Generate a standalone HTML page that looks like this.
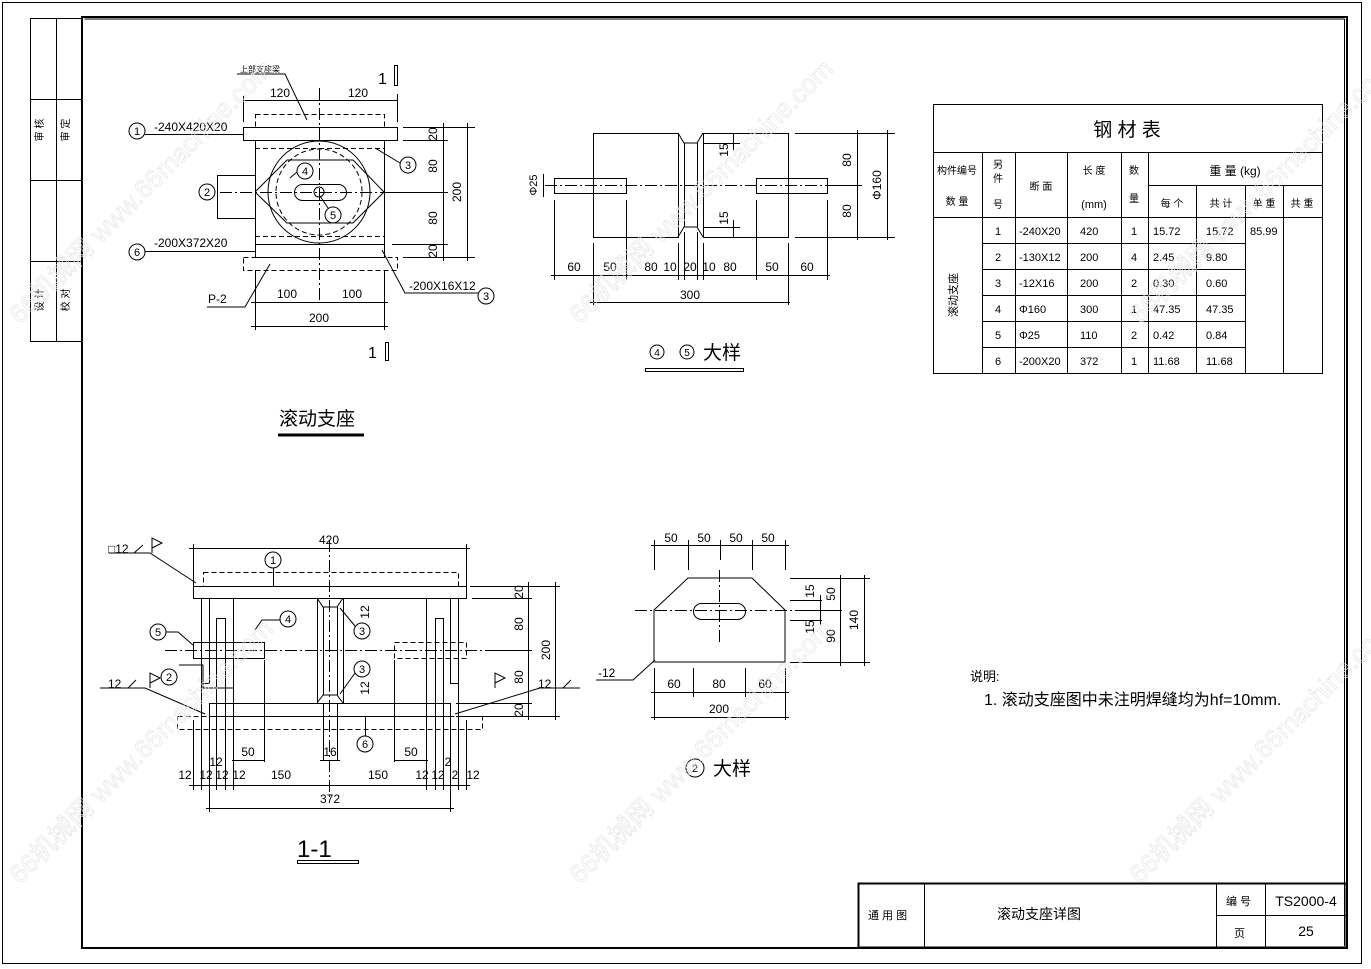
<!DOCTYPE html>
<html><head><meta charset="utf-8"><style>
html,body{margin:0;padding:0;background:#fff;}
svg{display:block;}
text{font-family:"Liberation Sans","Noto Sans CJK SC",sans-serif;fill:#000;}
</style></head><body>
<svg width="1371" height="969" viewBox="0 0 1371 969" xmlns="http://www.w3.org/2000/svg">
<g fill="none" stroke="#000" stroke-width="1">
<rect x="2.5" y="2.5" width="1359" height="961"/>
<rect x="82" y="17" width="1265" height="931" stroke-width="2"/>
<line x1="84.5" y1="19" x2="1344.5" y2="19"/>
<line x1="1344.5" y1="19" x2="1344.5" y2="946"/>
<rect x="30.5" y="18.5" width="51" height="323"/>
<line x1="56.5" y1="18" x2="56.5" y2="342"/>
<line x1="30" y1="99.5" x2="82" y2="99.5"/>
<line x1="30" y1="180.5" x2="82" y2="180.5"/>
<line x1="30" y1="261.5" x2="82" y2="261.5"/>
<rect x="858.5" y="883.5" width="488" height="64" stroke-width="2"/>
<line x1="924.5" y1="884" x2="924.5" y2="948"/>
<line x1="1216.5" y1="884" x2="1216.5" y2="948"/>
<line x1="1265.5" y1="884" x2="1265.5" y2="948"/>
<line x1="1216" y1="915.5" x2="1347" y2="915.5"/>

<rect x="243.5" y="127.5" width="154" height="13"/>
<rect x="255.5" y="114.5" width="129" height="13" stroke-dasharray="5,3"/>
<rect x="255.5" y="140.5" width="129" height="117"/>
<line x1="255" y1="148.5" x2="384" y2="148.5" stroke-dasharray="5,3"/>
<line x1="255" y1="236.5" x2="384" y2="236.5" stroke-dasharray="5,3"/>
<line x1="255" y1="244.5" x2="384" y2="244.5"/>
<rect x="243.5" y="257.5" width="154" height="13" stroke-dasharray="5,3"/>
<circle cx="319" cy="192" r="51"/>
<circle cx="319" cy="192" r="43" stroke-dasharray="5,3"/>
<polyline points="255,192 287,160 353,160 384,192 353,223 287,223 255,192"/>
<rect x="294.5" y="184.5" width="52" height="16" rx="8"/>
<circle cx="319" cy="192" r="5"/>
<rect x="217.5" y="175.5" width="38" height="43"/>
<line x1="319.5" y1="88" x2="319.5" y2="300" stroke-dasharray="12,3,2,3"/>
<line x1="220" y1="192.5" x2="420" y2="192.5" stroke-dasharray="12,3,2,3"/>
<line x1="243" y1="100.5" x2="397" y2="100.5"/>
<line x1="243.5" y1="96" x2="243.5" y2="122"/><line x1="397.5" y1="94" x2="397.5" y2="122"/>
<line x1="403" y1="127.5" x2="475" y2="127.5"/><line x1="403" y1="140.5" x2="448" y2="140.5"/>
<line x1="390" y1="192.5" x2="448" y2="192.5"/><line x1="392" y1="244.5" x2="448" y2="244.5"/>
<line x1="403" y1="257.5" x2="475" y2="257.5"/>
<line x1="443.5" y1="123" x2="443.5" y2="261"/><line x1="467.5" y1="123" x2="467.5" y2="261"/>
<line x1="255.5" y1="270" x2="255.5" y2="330"/><line x1="384.5" y1="270" x2="384.5" y2="330"/>
<line x1="251" y1="302.5" x2="388" y2="302.5"/><line x1="251" y1="326.5" x2="388" y2="326.5"/>
<circle cx="137" cy="131" r="8"/><line x1="145" y1="134.5" x2="243" y2="134.5"/>
<circle cx="137" cy="252" r="8"/><line x1="145" y1="251.5" x2="255" y2="251.5"/>
<circle cx="207" cy="192" r="8"/>
<circle cx="408" cy="165" r="8"/><line x1="400" y1="163" x2="375" y2="148"/>
<circle cx="486" cy="296" r="8"/><polyline points="478,293 405,293 382,250"/>
<circle cx="305" cy="171" r="8"/><line x1="297" y1="172" x2="290" y2="178"/>
<circle cx="333" cy="215" r="8"/><line x1="328" y1="208" x2="320" y2="196"/>
<polyline points="207,307 245,307 270,264"/>
<polyline points="237,74 285,74 307,120"/>
<rect x="394.5" y="65.5" width="3" height="20"/>
<rect x="385.5" y="342.5" width="3" height="18"/>
<line x1="278" y1="435" x2="364" y2="435" stroke-width="3"/>

<rect x="593.5" y="133.5" width="85" height="104"/>
<rect x="703.5" y="133.5" width="85" height="104"/>
<polyline points="678,133 684,143 697,143 703,133"/>
<polyline points="678,237 684,227 697,227 703,237"/>
<line x1="684.5" y1="143" x2="684.5" y2="227"/><line x1="697.5" y1="143" x2="697.5" y2="227"/>
<rect x="554.5" y="178.5" width="72" height="15"/>
<rect x="756.5" y="178.5" width="71" height="15"/>
<line x1="545" y1="185.5" x2="835" y2="185.5" stroke-dasharray="12,3,2,3"/>
<line x1="554.5" y1="200" x2="554.5" y2="280"/><line x1="593.5" y1="243" x2="593.5" y2="305"/>
<line x1="626.5" y1="200" x2="626.5" y2="280"/><line x1="678.5" y1="243" x2="678.5" y2="280"/>
<line x1="684.5" y1="232" x2="684.5" y2="280"/><line x1="697.5" y1="232" x2="697.5" y2="280"/>
<line x1="703.5" y1="243" x2="703.5" y2="280"/><line x1="756.5" y1="200" x2="756.5" y2="280"/>
<line x1="788.5" y1="243" x2="788.5" y2="305"/><line x1="827.5" y1="200" x2="827.5" y2="280"/>
<line x1="551" y1="275.5" x2="830" y2="275.5"/>
<line x1="590" y1="302.5" x2="790" y2="302.5"/>
<line x1="795" y1="133.5" x2="895" y2="133.5"/><line x1="835" y1="185.5" x2="862" y2="185.5"/>
<line x1="795" y1="237.5" x2="895" y2="237.5"/>
<line x1="857.5" y1="130" x2="857.5" y2="240"/><line x1="887.5" y1="130" x2="887.5" y2="240"/>
<line x1="704" y1="143.5" x2="740" y2="143.5"/><line x1="704" y1="227.5" x2="740" y2="227.5"/>
<line x1="733.5" y1="133" x2="733.5" y2="150"/><line x1="733.5" y1="220" x2="733.5" y2="237"/>
<line x1="543.5" y1="174" x2="543.5" y2="197"/>
<circle cx="657" cy="352" r="7"/><circle cx="687" cy="352" r="7"/>
<rect x="645.5" y="368.5" width="98" height="3"/>

<rect x="193.5" y="586.5" width="273" height="12"/>
<rect x="203.5" y="572.5" width="255" height="14" stroke-dasharray="5,3"/>
<rect x="209.5" y="703.5" width="241" height="13"/>
<rect x="177.5" y="716.5" width="305" height="13" stroke-dasharray="5,3"/>
<rect x="201.5" y="598.5" width="8" height="85"/>
<rect x="216.5" y="618.5" width="9" height="85"/>
<line x1="233.5" y1="598" x2="233.5" y2="703"/>
<line x1="426.5" y1="598" x2="426.5" y2="703"/>
<rect x="435.5" y="618.5" width="8" height="85"/>
<rect x="450.5" y="598.5" width="8" height="85"/>
<rect x="317.5" y="598.5" width="26" height="105"/>
<line x1="323.5" y1="607" x2="323.5" y2="695"/><line x1="337.5" y1="607" x2="337.5" y2="695"/>
<polyline points="317,598 323,607 337,607 343,598"/>
<polyline points="317,703 323,695 337,695 343,703"/>
<rect x="193.5" y="642.5" width="71" height="16"/>
<rect x="394.5" y="642.5" width="72" height="16" stroke-dasharray="5,3"/>
<line x1="165" y1="650.5" x2="490" y2="650.5" stroke-dasharray="12,3,2,3"/>
<line x1="329.5" y1="540" x2="329.5" y2="800" stroke-dasharray="12,3,2,3"/>
<line x1="193.5" y1="544" x2="193.5" y2="586"/><line x1="466.5" y1="544" x2="466.5" y2="586"/>
<line x1="189" y1="548.5" x2="470" y2="548.5"/>
<line x1="470" y1="586.5" x2="560" y2="586.5"/><line x1="472" y1="598.5" x2="532" y2="598.5"/>
<line x1="490" y1="650.5" x2="532" y2="650.5"/><line x1="456" y1="703.5" x2="532" y2="703.5"/>
<line x1="456" y1="716.5" x2="560" y2="716.5"/>
<line x1="528.5" y1="582" x2="528.5" y2="720"/><line x1="555.5" y1="582" x2="555.5" y2="720"/>
<line x1="193.5" y1="720" x2="193.5" y2="790"/><line x1="201.5" y1="684" x2="201.5" y2="790"/>
<line x1="209.5" y1="717" x2="209.5" y2="812"/><line x1="216.5" y1="704" x2="216.5" y2="790"/>
<line x1="225.5" y1="704" x2="225.5" y2="790"/><line x1="233.5" y1="704" x2="233.5" y2="790"/>
<line x1="264.5" y1="660" x2="264.5" y2="762"/>
<line x1="426.5" y1="704" x2="426.5" y2="790"/><line x1="435.5" y1="704" x2="435.5" y2="790"/>
<line x1="443.5" y1="704" x2="443.5" y2="790"/><line x1="450.5" y1="717" x2="450.5" y2="812"/>
<line x1="458.5" y1="684" x2="458.5" y2="790"/><line x1="466.5" y1="720" x2="466.5" y2="790"/>
<line x1="394.5" y1="660" x2="394.5" y2="762"/>
<line x1="323.5" y1="703" x2="323.5" y2="760"/><line x1="337.5" y1="703" x2="337.5" y2="760"/>
<line x1="189" y1="785.5" x2="470" y2="785.5"/>
<line x1="206" y1="808.5" x2="454" y2="808.5"/>
<line x1="232" y1="760.5" x2="265" y2="760.5"/><line x1="394" y1="760.5" x2="428" y2="760.5"/>
<line x1="320" y1="760.5" x2="340" y2="760.5"/>
<circle cx="273" cy="560" r="8"/><line x1="273.5" y1="568" x2="273.5" y2="586"/>
<circle cx="158" cy="632" r="8"/><polyline points="166,632 178,632 193,645"/>
<circle cx="288" cy="619" r="8"/><polyline points="280,620 262,620 255,630"/>
<circle cx="169" cy="677" r="8"/><polyline points="179,665 203,665 203,688 233,688"/>
<circle cx="362" cy="631" r="8"/><line x1="355" y1="626" x2="340" y2="608"/>
<circle cx="362" cy="669" r="8"/><line x1="355" y1="673" x2="340" y2="694"/>
<circle cx="365" cy="744" r="8"/><line x1="365.5" y1="736" x2="365.5" y2="716"/>
<polyline points="109,553 150,553 196,583"/>
<polyline points="100,688 145,688 205,714"/>
<polyline points="580,688 540,688 455,714"/>
<path d="M152,553V538L162,543L152,548"/><path d="M150,688V673L160,678L150,683"/>
<path d="M495,688V673L505,678L495,683"/>
<path d="M134,553L143,545"/><path d="M128,688L136,680"/><path d="M563,688L571,680"/>
<rect x="297.5" y="860.5" width="61" height="3"/>

<polygon points="654,610 688,578 752,578 785,610 785,662 654,662"/>
<rect x="693.5" y="603.5" width="52" height="16" rx="8"/>
<line x1="635" y1="610.5" x2="800" y2="610.5" stroke-dasharray="12,3,2,3"/>
<line x1="719.5" y1="570" x2="719.5" y2="642" stroke-dasharray="12,3,2,3"/>
<line x1="654.5" y1="540" x2="654.5" y2="570"/><line x1="688.5" y1="540" x2="688.5" y2="570"/>
<line x1="720.5" y1="540" x2="720.5" y2="560"/><line x1="752.5" y1="540" x2="752.5" y2="570"/>
<line x1="785.5" y1="540" x2="785.5" y2="570"/>
<line x1="651" y1="545.5" x2="789" y2="545.5"/>
<line x1="654.5" y1="668" x2="654.5" y2="720"/><line x1="693.5" y1="668" x2="693.5" y2="697"/>
<line x1="745.5" y1="668" x2="745.5" y2="697"/><line x1="785.5" y1="668" x2="785.5" y2="720"/>
<line x1="651" y1="692.5" x2="789" y2="692.5"/><line x1="651" y1="717.5" x2="789" y2="717.5"/>
<line x1="790" y1="578.5" x2="870" y2="578.5"/><line x1="790" y1="600.5" x2="822" y2="600.5"/>
<line x1="800" y1="610.5" x2="842" y2="610.5"/><line x1="790" y1="620.5" x2="822" y2="620.5"/>
<line x1="790" y1="662.5" x2="870" y2="662.5"/>
<line x1="820.5" y1="595" x2="820.5" y2="625"/>
<line x1="840.5" y1="575" x2="840.5" y2="666"/><line x1="864.5" y1="575" x2="864.5" y2="666"/>
<polyline points="596,680 633,680 655,660"/>
<circle cx="695" cy="768" r="9"/>

<rect x="933.5" y="104.5" width="389" height="269"/>
<line x1="933" y1="152.5" x2="1322" y2="152.5"/>
<line x1="933" y1="217.5" x2="1322" y2="217.5"/>
<line x1="1148" y1="185.5" x2="1322" y2="185.5"/>
<line x1="982.5" y1="152" x2="982.5" y2="373"/>
<line x1="1015.5" y1="152" x2="1015.5" y2="373"/>
<line x1="1067.5" y1="152" x2="1067.5" y2="373"/>
<line x1="1121.5" y1="152" x2="1121.5" y2="373"/>
<line x1="1148.5" y1="152" x2="1148.5" y2="373"/>
<line x1="1196.5" y1="185" x2="1196.5" y2="373"/>
<line x1="1245.5" y1="185" x2="1245.5" y2="373"/>
<line x1="1283.5" y1="185" x2="1283.5" y2="373"/>
<line x1="982" y1="243.5" x2="1245" y2="243.5"/>
<line x1="982" y1="269.5" x2="1245" y2="269.5"/>
<line x1="982" y1="295.5" x2="1245" y2="295.5"/>
<line x1="982" y1="321.5" x2="1245" y2="321.5"/>
<line x1="982" y1="347.5" x2="1245" y2="347.5"/>
</g>

<g font-size="12">
<text x="43" y="130" font-size="10" text-anchor="middle" transform="rotate(-90 43 130)">审 核</text>
<text x="69" y="130" font-size="10" text-anchor="middle" transform="rotate(-90 69 130)">审 定</text>
<text x="43" y="300" font-size="10" text-anchor="middle" transform="rotate(-90 43 300)">设 计</text>
<text x="69" y="300" font-size="10" text-anchor="middle" transform="rotate(-90 69 300)">校 对</text>
<text x="868" y="919" font-size="11">通 用 图</text>
<text x="997" y="919" font-size="14">滚动支座详图</text>
<text x="1226" y="905" font-size="11">编 号</text>
<text x="1234" y="937" font-size="11">页</text>
<text x="1306" y="906" font-size="14" text-anchor="middle">TS2000-4</text>
<text x="1306" y="936" font-size="14" text-anchor="middle">25</text>
<text x="240" y="72" font-size="8">上部支座梁</text>
<text x="280" y="97" text-anchor="middle">120</text><text x="358" y="97" text-anchor="middle">120</text>
<text x="137" y="135" text-anchor="middle" font-size="11">1</text>
<text x="154" y="131">-240X420X20</text>
<text x="137" y="256" text-anchor="middle" font-size="11">6</text>
<text x="154" y="247">-200X372X20</text>
<text x="207" y="196" text-anchor="middle" font-size="11">2</text>
<text x="408" y="169" text-anchor="middle" font-size="11">3</text>
<text x="486" y="300" text-anchor="middle" font-size="11">3</text>
<text x="305" y="175" text-anchor="middle" font-size="11">4</text>
<text x="333" y="219" text-anchor="middle" font-size="11">5</text>
<text x="409" y="290">-200X16X12</text>
<text x="208" y="303">P-2</text>
<text x="287" y="298" text-anchor="middle">100</text><text x="352" y="298" text-anchor="middle">100</text>
<text x="319" y="322" text-anchor="middle">200</text>
<text x="437" y="134" transform="rotate(-90 437 134)" text-anchor="middle">20</text>
<text x="437" y="166" transform="rotate(-90 437 166)" text-anchor="middle">80</text>
<text x="437" y="218" transform="rotate(-90 437 218)" text-anchor="middle">80</text>
<text x="437" y="251" transform="rotate(-90 437 251)" text-anchor="middle">20</text>
<text x="461" y="192" transform="rotate(-90 461 192)" text-anchor="middle">200</text>
<text x="378" y="84" font-size="16">1</text>
<text x="368" y="358" font-size="16">1</text>
<text x="279" y="425" font-size="19">滚动支座</text>
<text x="574" y="271" text-anchor="middle">60</text><text x="610" y="271" text-anchor="middle">50</text>
<text x="651" y="271" text-anchor="middle">80</text><text x="670" y="271" text-anchor="middle">10</text>
<text x="690" y="271" text-anchor="middle">20</text><text x="709" y="271" text-anchor="middle">10</text>
<text x="730" y="271" text-anchor="middle">80</text><text x="772" y="271" text-anchor="middle">50</text>
<text x="807" y="271" text-anchor="middle">60</text>
<text x="690" y="299" text-anchor="middle">300</text>
<text x="728" y="150" transform="rotate(-90 728 150)" text-anchor="middle">15</text>
<text x="728" y="218" transform="rotate(-90 728 218)" text-anchor="middle">15</text>
<text x="851" y="160" transform="rotate(-90 851 160)" text-anchor="middle">80</text>
<text x="851" y="211" transform="rotate(-90 851 211)" text-anchor="middle">80</text>
<text x="881" y="185" transform="rotate(-90 881 185)" text-anchor="middle">Φ160</text>
<text x="537" y="185" transform="rotate(-90 537 185)" text-anchor="middle" font-size="11">Φ25</text>
<text x="657" y="356" text-anchor="middle" font-size="10">4</text>
<text x="687" y="356" text-anchor="middle" font-size="10">5</text>
<text x="703" y="359" font-size="19">大样</text>
<text x="329" y="544" text-anchor="middle">420</text>
<text x="273" y="564" text-anchor="middle" font-size="11">1</text>
<text x="158" y="636" text-anchor="middle" font-size="11">5</text>
<text x="288" y="623" text-anchor="middle" font-size="11">4</text>
<text x="169" y="681" text-anchor="middle" font-size="11">2</text>
<text x="362" y="635" text-anchor="middle" font-size="11">3</text>
<text x="362" y="673" text-anchor="middle" font-size="11">3</text>
<text x="365" y="748" text-anchor="middle" font-size="11">6</text>
<text x="108" y="553">□12</text>
<text x="108" y="688">12</text>
<text x="538" y="688">12</text>
<text x="369" y="612" transform="rotate(-90 369 612)" text-anchor="middle">12</text>
<text x="369" y="688" transform="rotate(-90 369 688)" text-anchor="middle">12</text>
<text x="523" y="592" transform="rotate(-90 523 592)" text-anchor="middle">20</text>
<text x="523" y="624" transform="rotate(-90 523 624)" text-anchor="middle">80</text>
<text x="523" y="677" transform="rotate(-90 523 677)" text-anchor="middle">80</text>
<text x="523" y="710" transform="rotate(-90 523 710)" text-anchor="middle">20</text>
<text x="550" y="650" transform="rotate(-90 550 650)" text-anchor="middle">200</text>
<text x="248" y="756" text-anchor="middle">50</text><text x="411" y="756" text-anchor="middle">50</text>
<text x="330" y="756" text-anchor="middle">16</text>
<text x="216" y="766" text-anchor="middle">12</text><text x="448" y="766" text-anchor="middle">2</text>
<text x="185" y="779" text-anchor="middle">12</text><text x="206" y="779" text-anchor="middle">12</text>
<text x="222" y="779" text-anchor="middle">12</text><text x="239" y="779" text-anchor="middle">12</text>
<text x="281" y="779" text-anchor="middle">150</text><text x="378" y="779" text-anchor="middle">150</text>
<text x="422" y="779" text-anchor="middle">12</text><text x="438" y="779" text-anchor="middle">12</text>
<text x="455" y="779" text-anchor="middle">2</text><text x="473" y="779" text-anchor="middle">12</text>
<text x="330" y="803" text-anchor="middle">372</text>
<text x="297" y="857" font-size="24">1-1</text>
<text x="671" y="542" text-anchor="middle">50</text><text x="704" y="542" text-anchor="middle">50</text>
<text x="736" y="542" text-anchor="middle">50</text><text x="768" y="542" text-anchor="middle">50</text>
<text x="674" y="688" text-anchor="middle">60</text><text x="719" y="688" text-anchor="middle">80</text>
<text x="765" y="688" text-anchor="middle">60</text>
<text x="719" y="713" text-anchor="middle">200</text>
<text x="814" y="591" transform="rotate(-90 814 591)" text-anchor="middle">15</text>
<text x="814" y="627" transform="rotate(-90 814 627)" text-anchor="middle">15</text>
<text x="835" y="594" transform="rotate(-90 835 594)" text-anchor="middle">50</text>
<text x="835" y="636" transform="rotate(-90 835 636)" text-anchor="middle">90</text>
<text x="858" y="620" transform="rotate(-90 858 620)" text-anchor="middle">140</text>
<text x="598" y="677">-12</text>
<text x="695" y="772" text-anchor="middle" font-size="11">2</text>
<text x="713" y="775" font-size="19">大样</text>
<text x="970" y="681" font-size="13">说明:</text>
<text x="984" y="705" font-size="16">1. 滚动支座图中未注明焊缝均为hf=10mm.</text>
<text x="1127" y="136" font-size="19" text-anchor="middle">钢   材   表</text>
<text x="957" y="174" font-size="10" text-anchor="middle">构件编号</text>
<text x="957" y="205" font-size="10" text-anchor="middle">数   量</text>
<text x="998" y="168" font-size="10" text-anchor="middle">另</text>
<text x="998" y="182" font-size="10" text-anchor="middle">件</text>
<text x="998" y="208" font-size="10" text-anchor="middle">号</text>
<text x="1041" y="190" font-size="10" text-anchor="middle">断 面</text>
<text x="1094" y="174" font-size="10" text-anchor="middle">长 度</text>
<text x="1094" y="208" font-size="11" text-anchor="middle">(mm)</text>
<text x="1134" y="174" font-size="10" text-anchor="middle">数</text>
<text x="1134" y="202" font-size="10" text-anchor="middle">量</text>
<text x="1235" y="175" font-size="12" text-anchor="middle">重   量   (kg)</text>
<text x="1172" y="207" font-size="10" text-anchor="middle">每 个</text>
<text x="1221" y="207" font-size="10" text-anchor="middle">共 计</text>
<text x="1264" y="207" font-size="10" text-anchor="middle">单 重</text>
<text x="1302" y="207" font-size="10" text-anchor="middle">共 重</text>
<text x="957" y="295" font-size="11" text-anchor="middle" transform="rotate(-90 957 295)">滚动支座</text>
<g font-size="11">
<text x="998" y="235" text-anchor="middle">1</text><text x="1019" y="235">-240X20</text><text x="1080" y="235">420</text><text x="1134" y="235" text-anchor="middle">1</text><text x="1153" y="235">15.72</text><text x="1206" y="235">15.72</text><text x="1250" y="235">85.99</text>
<text x="998" y="261" text-anchor="middle">2</text><text x="1019" y="261">-130X12</text><text x="1080" y="261">200</text><text x="1134" y="261" text-anchor="middle">4</text><text x="1153" y="261">2.45</text><text x="1206" y="261">9.80</text>
<text x="998" y="287" text-anchor="middle">3</text><text x="1019" y="287">-12X16</text><text x="1080" y="287">200</text><text x="1134" y="287" text-anchor="middle">2</text><text x="1153" y="287">0.30</text><text x="1206" y="287">0.60</text>
<text x="998" y="313" text-anchor="middle">4</text><text x="1019" y="313">Φ160</text><text x="1080" y="313">300</text><text x="1134" y="313" text-anchor="middle">1</text><text x="1153" y="313">47.35</text><text x="1206" y="313">47.35</text>
<text x="998" y="339" text-anchor="middle">5</text><text x="1019" y="339">Φ25</text><text x="1080" y="339">110</text><text x="1134" y="339" text-anchor="middle">2</text><text x="1153" y="339">0.42</text><text x="1206" y="339">0.84</text>
<text x="998" y="365" text-anchor="middle">6</text><text x="1019" y="365">-200X20</text><text x="1080" y="365">372</text><text x="1134" y="365" text-anchor="middle">1</text><text x="1153" y="365">11.68</text><text x="1206" y="365">11.68</text>
</g>
</g>
<g font-size="26" stroke="#e2e2e2" stroke-width="0.6" style="font-family:'Liberation Sans','Noto Sans CJK SC',sans-serif">
<text x="20" y="325" transform="rotate(-45 20 325)" style="fill:none">66机械网 www.66machine.com</text>
<text x="580" y="325" transform="rotate(-45 580 325)" style="fill:none">66机械网 www.66machine.com</text>
<text x="1140" y="325" transform="rotate(-45 1140 325)" style="fill:none">66机械网 www.66machine.com</text>
<text x="20" y="885" transform="rotate(-45 20 885)" style="fill:none">66机械网 www.66machine.com</text>
<text x="580" y="885" transform="rotate(-45 580 885)" style="fill:none">66机械网 www.66machine.com</text>
<text x="1140" y="885" transform="rotate(-45 1140 885)" style="fill:none">66机械网 www.66machine.com</text>
</g>
</svg>
</body></html>
